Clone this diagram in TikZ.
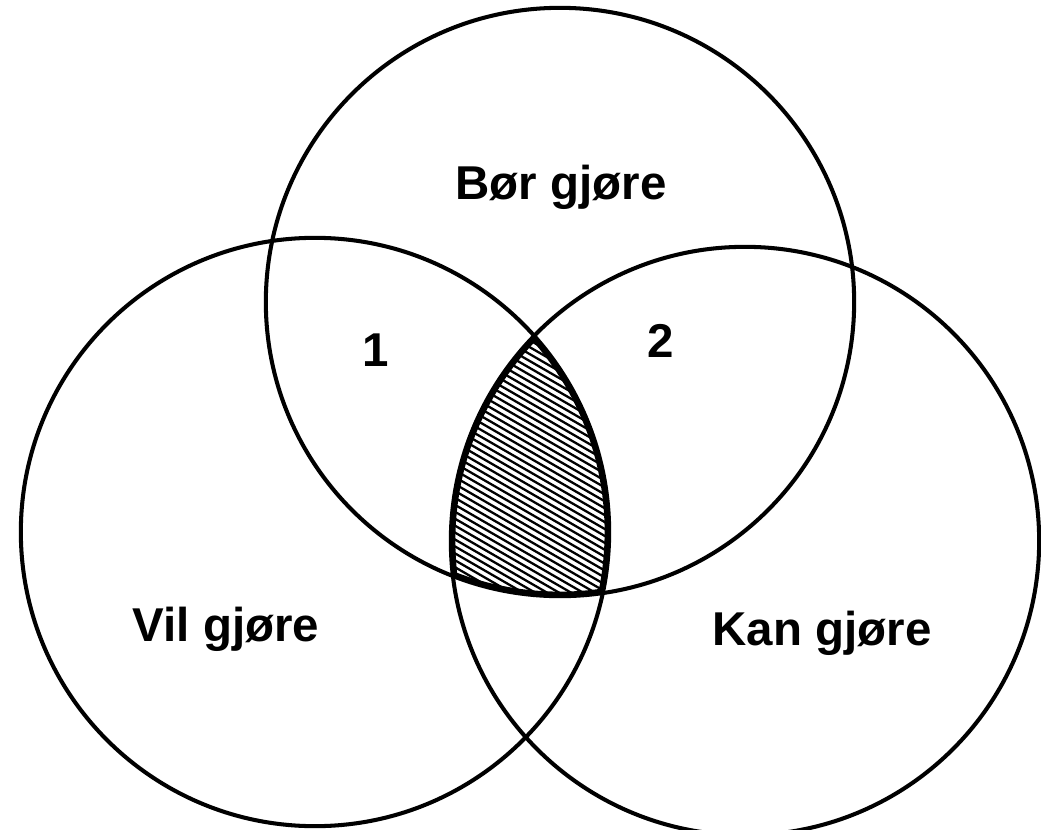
\documentclass[tikz,border=0pt]{standalone}
\usepackage{fontspec}
\setmainfont{Liberation Sans}

\begin{document}
\begin{tikzpicture}[
    x=0.01cm, y=-0.01cm,
    ring/.style={draw, line width=1.15pt},
    rim/.style={draw, line width=2.6pt},
    hatchline/.style={line width=0.65pt},
    setlabel/.style={font=\fontsize{13.5}{16}\selectfont\bfseries},
    numlabel/.style={font=\fontsize{13.5}{16}\selectfont\bfseries}
]
\useasboundingbox (0,0) rectangle (1041,830);

% circle centres
\coordinate (bor) at (560,302);
\coordinate (vil) at (315,532);
\coordinate (kan) at (745,541);

% hatched common part
\begin{scope}
    \clip (bor) circle[radius=2.94cm];
    \clip (vil) circle[radius=2.94cm];
    \clip (kan) circle[radius=2.94cm];
    \foreach \x in {100,112,...,1000}
        \draw[hatchline] (\x-300,300) -- ++(700,404);
    \draw[rim] (bor) circle[radius=2.94cm];
    \draw[rim] (vil) circle[radius=2.94cm];
    \draw[rim] (kan) circle[radius=2.94cm];
\end{scope}

% the three circles
\draw[ring] (bor) circle[radius=2.94cm];
\draw[ring] (vil) circle[radius=2.94cm];
\draw[ring] (kan) circle[radius=2.94cm];

% labels
\node[setlabel] (borlabel) at (561,187) {Bør gjøre};
\node[setlabel] (vilabel)  at (226,629) {Vil gjøre};
\node[setlabel] (kanlabel) at (822,633) {Kan gjøre};
\node[numlabel] (one) at (376,350) {1};
\node[numlabel] (two) at (661,341) {2};

\end{tikzpicture}
\end{document}
